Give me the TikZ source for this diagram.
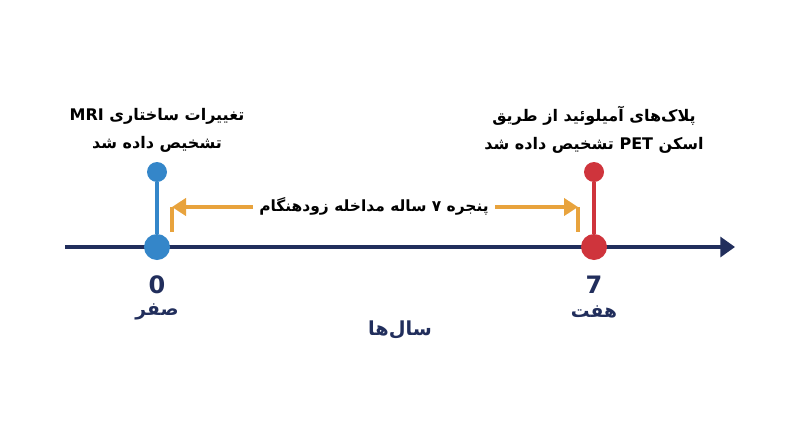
\documentclass[tikz,border=0pt]{standalone}
\usepackage{fontspec}
\setmainfont{DejaVu Sans}
\newfontfamily\farsi[Script=Arabic]{DejaVu Sans}
\TeXXeTstate=1
\usepackage{tikz}
\usetikzlibrary{arrows.meta}

\definecolor{axisnavy}{RGB}{33,46,92}
\definecolor{mriblue}{RGB}{52,134,201}
\definecolor{petred}{RGB}{207,52,60}
\definecolor{windoworange}{RGB}{232,163,61}

\begin{document}
\begin{tikzpicture}[x=0.75pt,y=0.75pt,yscale=-1,xscale=1,
  bigdot/.style={circle,fill=#1,inner sep=0pt,minimum size=19.5pt},
  smalldot/.style={circle,fill=#1,inner sep=0pt,minimum size=15pt},
  stem/.style={draw=#1,line width=2.4pt},
  eventlabel/.style={align=center,font=\farsi\bfseries\fontsize{12}{21}\selectfont,text=black},
  ticklabel/.style={align=center,font=\farsi\bfseries\fontsize{18}{20}\selectfont,text=axisnavy},
  tickword/.style={font=\farsi\bfseries\fontsize{14}{16}\selectfont,text=axisnavy},
  windowarrow/.style={draw=windoworange,line width=2.4pt,-{Triangle[length=10.5pt,width=13pt]}},
  windowfoot/.style={draw=windoworange,line width=2.4pt}
]
\useasboundingbox (0,0) rectangle (800,447);

%Axis
\coordinate (axisstart) at (65,247);
\coordinate (axisend) at (735,247);
\draw [draw=axisnavy,line width=2.4pt,-{Triangle[length=11pt,width=15pt]}] (axisstart) -- (axisend);

%Year 0 : MRI
\node [smalldot=mriblue] (mritop) at (157,172) {};
\node [bigdot=mriblue] (mriaxis) at (157,247) {};
\draw [stem=mriblue] (mritop) -- (mriaxis);

%Year 7 : PET
\node [smalldot=petred] (pettop) at (594,172) {};
\node [bigdot=petred] (petaxis) at (594,247) {};
\draw [stem=petred] (pettop) -- (petaxis);

% Text Node
\node [eventlabel] (mrilabel) at (157,130) {\beginR تغییرات ساختاری \beginL MRI\endL\endR\\\beginR تشخیص داده شد\endR};
% Text Node
\node [eventlabel] (petlabel) at (594,130) {\beginR پلاک‌های آمیلوئید از طریق\endR\\\beginR اسکن \beginL PET\endL{} تشخیص داده شد\endR};

%Window arrows
\node [font=\farsi\bfseries\fontsize{11.6}{15}\selectfont] (window) at (374,206) {\beginR پنجره ۷ ساله مداخله زودهنگام\endR};
\coordinate (leftstart) at (253,207);
\coordinate (leftcorner) at (172,207);
\coordinate (leftfoot) at (172,232);
\coordinate (rightstart) at (495,207);
\coordinate (rightcorner) at (578,207);
\coordinate (rightfoot) at (578,232);
\draw [windowarrow] (leftstart) -- (leftcorner);
\draw [windowfoot] (leftcorner) -- (leftfoot);
\draw [windowarrow] (rightstart) -- (rightcorner);
\draw [windowfoot] (rightcorner) -- (rightfoot);

% Text Node
\node [ticklabel] (zero) at (157,285) {0};
\node [tickword] (zeroword) at (157,312) {\beginR صفر\endR};
\node [ticklabel] (seven) at (594,285) {7};
\node [tickword] (sevenword) at (594,312) {\beginR هفت\endR};
\node [tickword,font=\farsi\bfseries\fontsize{14.5}{18}\selectfont] (years) at (400,330) {\beginR سال‌ها\endR};

\end{tikzpicture}
\end{document}
